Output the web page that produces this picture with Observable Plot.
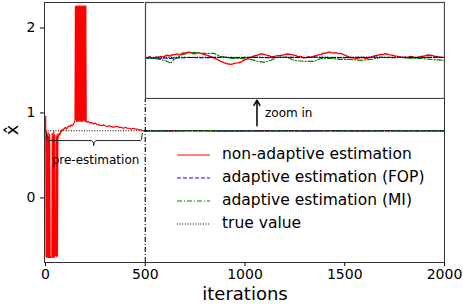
<!DOCTYPE html>
<html><head><meta charset="utf-8">
<script src="https://cdn.jsdelivr.net/npm/d3@7"></script>
<script src="https://cdn.jsdelivr.net/npm/@observablehq/plot@0.6"></script>
<style>
body{margin:0;background:#fff;font-family:"DejaVu Sans",sans-serif;}
#wrap{position:relative;width:463px;height:304px;overflow:hidden;background:#fff}
#wrap svg.plotsvg{position:absolute}
.lbl{position:absolute;white-space:nowrap;line-height:1;color:#000;font-family:"DejaVu Sans",sans-serif}
</style></head><body><div id="wrap"></div>
<script>
// ---- data ----
const trueValue = 0.79;
const xTicks = [0, 500, 1000, 1500, 2000];
const yTicks = [0, 1, 2];
const seriesNames = ["non-adaptive estimation", "adaptive estimation (FOP)", "adaptive estimation (MI)", "true value"];

const redIter = [0,1,2,3,5,7,9,11,13,15,17,19,21,23,25,32,34,36,38,40,42,44,46,47,52,54,56,58,60,62,64,68,72,76,80,85,90,95,100,105,110,115,120,125,130,135,140,145,148,
 150,152,154,156,158,160,162,164,166,168,170,172,174,176,178,180,182,184,186,188,190,192,194,196,198,200,202,204,
 208,215,222,230,240,250,260,270,280,290,300,310,320,330,340,350,360,370,380,390,400,410,420,430,440,450,460,470,480,490,
 500,511,521,532,542,558,566,575,592,600,609,625,634,642,659,668,676,688,700,713,726,738,750,763,777,795,810,822,835,848,860,876,893,910,927,938,950,964,978,990,1003,1015,1028,1044,1060,1078,1095,1108,1120,1133,1145,1165,1185,1207,1229,1242,1255,1267,1279,1292,1305,1318,1330,1343,1355,1368,1380,1393,1405,1418,1430,1443,1455,1468,1480,1497,1514,1527,1540,1552,1564,1577,1590,1602,1614,1627,1640,1652,1665,1678,1690,1703,1715,1728,1740,1752,1765,1778,1790,1803,1816,1828,1840,1853,1866,1883,1900,1916,1933,1949,1965,1983,2000];
const redVal = [0.80,0.96,0.30,-0.69,0.78,-0.70,0.74,-0.69,0.77,-0.70,0.72,-0.70,0.75,-0.69,-0.70,-0.69,0.76,-0.70,0.73,-0.69,0.78,-0.70,0.74,-0.68,-0.68,0.72,-0.69,0.75,-0.68,0.70,0.72,0.76,0.74,0.79,0.78,0.81,0.80,0.82,0.83,0.81,0.83,0.84,0.85,0.84,0.86,0.85,0.87,0.89,0.91,
 2.25,0.92,2.26,0.90,2.25,0.91,2.26,0.90,2.25,0.92,2.26,0.90,2.25,0.91,2.26,0.90,2.25,0.91,2.26,0.90,2.25,0.92,2.26,0.91,2.25,0.90,2.26,0.90,
 0.89,0.90,0.88,0.89,0.87,0.88,0.86,0.86,0.85,0.86,0.85,0.84,0.85,0.84,0.83,0.84,0.84,0.83,0.83,0.82,0.83,0.82,0.82,0.81,0.82,0.81,0.81,0.80,0.80,0.79,
 0.7900,0.7896,0.7905,0.7893,0.7896,0.7904,0.7899,0.7907,0.7902,0.7912,0.7915,0.7910,0.7920,0.7918,0.7926,0.7919,0.7922,0.7932,0.7930,0.7938,0.7936,0.7928,0.7925,0.7934,0.7929,0.7921,0.7915,0.7908,0.7900,0.7893,0.7885,0.7872,0.7862,0.7853,0.7849,0.7852,0.7858,0.7860,0.7864,0.7876,0.7885,0.7892,0.7900,0.7910,0.7915,0.7926,0.7922,0.7916,0.7912,0.7904,0.7907,0.7913,0.7915,0.7924,0.7922,0.7916,0.7912,0.7904,0.7907,0.7897,0.7898,0.7904,0.7900,0.7908,0.7912,0.7918,0.7922,0.7930,0.7932,0.7938,0.7936,0.7931,0.7934,0.7927,0.7929,0.7918,0.7907,0.7900,0.7897,0.7891,0.7893,0.7899,0.7898,0.7892,0.7893,0.7900,0.7906,0.7912,0.7915,0.7921,0.7920,0.7926,0.7922,0.7918,0.7915,0.7910,0.7907,0.7903,0.7902,0.7896,0.7900,0.7906,0.7904,0.7897,0.7900,0.7906,0.7910,0.7917,0.7915,0.7909,0.7905,0.7900,0.7900];

const blueIter = [500,530,560,590,620,650,680,710,740,770,800,840,880,920,960,1000,1040,1080,1120,1160,1200,1250,1300,1350,1400,1450,1500,1550,1600,1650,1700,1750,1800,1850,1900,1950,2000];
const blueVal = [0.7895,0.7893,0.7892,0.7894,0.7893,0.7896,0.7897,0.7899,0.7899,0.7898,0.7897,0.7900,0.7901,0.7899,0.7898,0.7900,0.7900,0.7899,0.7898,0.7900,0.7901,0.7899,0.7899,0.7901,0.7900,0.7898,0.7898,0.7900,0.7900,0.7901,0.7899,0.7898,0.7901,0.7900,0.7899,0.7900,0.7899];

const greenIter = [500,542,575,609,626,642,676,709,743,777,810,843,877,927,978,1028,1061,1095,1128,1162,1212,1246,1296,1346,1380,1430,1480,1530,1580,1630,1680,1730,1780,1830,1880,1933,2000];
const greenVal = [0.7896,0.7893,0.7885,0.7871,0.7856,0.7885,0.7915,0.7929,0.7936,0.7929,0.7929,0.7929,0.7907,0.7893,0.7893,0.7885,0.7871,0.7864,0.7878,0.7900,0.7900,0.7878,0.7871,0.7871,0.7893,0.7893,0.7885,0.7885,0.7878,0.7885,0.7900,0.7900,0.7900,0.7893,0.7893,0.7885,0.7878];

// ---- build rows ----
const red = redIter.map((it, i) => ({it, v: redVal[i]}));
const blue = blueIter.map((it, i) => ({it, v: blueVal[i]}));
const green = greenIter.map((it, i) => ({it, v: greenVal[i]}));
const redPost = red.filter(d => d.it >= 500);

const RED = "#ff0000", BLUE = "#0000ff", GREEN = "#008000";
const DASH = "4,2", DASHDOT = "5,2,1,2", DOT = "1,1.6";

// curly bracket annotation under the pre-estimation phase
const brace = [[5,0.76],[8,0.69],[15,0.675],[230,0.675],[240,0.655],[242,0.615],[244,0.655],[254,0.675],[475,0.675],[482,0.69],[485,0.76]].map(([it,v]) => ({it, v}));

const main = Plot.plot({
  width: 463, height: 304,
  marginLeft: 44, marginRight: 19, marginTop: 2, marginBottom: 42,
  style: {fontFamily: "DejaVu Sans", fontSize: "14px", color: "#000", background: "#fff"},
  x: {domain: [-5, 2000]},
  y: {domain: [-0.76, 2.30]},
  marks: [
    Plot.line(red, {x: "it", y: "v", stroke: RED, strokeWidth: 1.2}),
    Plot.line(blue, {x: "it", y: "v", stroke: BLUE, strokeWidth: 1.2, strokeDasharray: DASH}),
    Plot.line(green, {x: "it", y: "v", stroke: GREEN, strokeWidth: 1.2, strokeDasharray: DASHDOT}),
    Plot.ruleY([trueValue], {x1: 0, x2: 2000, stroke: "#000", strokeWidth: 1.1, strokeDasharray: DOT}),
    Plot.ruleX([500], {y1: -0.76, y2: 1.168, stroke: "#000", strokeWidth: 1.1, strokeDasharray: DASHDOT}),
    Plot.line(brace, {x: "it", y: "v", stroke: "#222", strokeWidth: 1}),
    Plot.arrow([{x: 1060, y1: 0.85, y2: 1.15}], {x1: "x", x2: "x", y1: "y1", y2: "y2", stroke: "#000", strokeWidth: 1.5, headLength: 6}),
    Plot.axisX({ticks: xTicks, tickSize: 4, tickPadding: 3, tickFormat: d => String(d), label: null, fontSize: 14}),
    Plot.axisY({ticks: yTicks, tickSize: 4, tickPadding: 5, tickFormat: d => String(d), label: null, fontSize: 14}),
    Plot.frame({stroke: "#333", strokeWidth: 1})
  ]
});
main.classList.add("plotsvg");
main.style.left = "0px"; main.style.top = "0px";

const inset = Plot.plot({
  width: 301, height: 98, margin: 1,
  style: {background: "#fff"},
  x: {domain: [500, 2000], axis: null},
  y: {domain: [0.76, 0.83], axis: null},
  marks: [
    Plot.line(redPost, {x: "it", y: "v", stroke: RED, strokeWidth: 1.4}),
    Plot.line(blue, {x: "it", y: "v", stroke: BLUE, strokeWidth: 1.2, strokeDasharray: DASH}),
    Plot.line(green, {x: "it", y: "v", stroke: GREEN, strokeWidth: 1.2, strokeDasharray: DASHDOT}),
    Plot.ruleY([trueValue], {stroke: "#000", strokeWidth: 1.1, strokeDasharray: DOT}),
    Plot.frame({stroke: "#444", strokeWidth: 1.2})
  ]
});
inset.classList.add("plotsvg");
inset.style.left = "144px"; inset.style.top = "1px";

const wrap = document.getElementById("wrap");
wrap.appendChild(main);
wrap.appendChild(inset);

function label(text, x, y, size, anchorX = 0) {
  const d = document.createElement("div");
  d.className = "lbl";
  d.textContent = text;
  d.style.left = x + "px"; d.style.top = y + "px";
  d.style.fontSize = size + "px";
  d.style.transform = `translate(${-anchorX * 100}%, -50%)`;
  wrap.appendChild(d);
  return d;
}
label("iterations", 245, 294, 18, 0.5);
label("pre-estimation", 95.5, 160, 12, 0.5);
label("zoom in", 265, 113, 12, 0);
const yl = label("x\u0302", 12, 130, 18, 0.5);
yl.style.transformOrigin = "center";
yl.style.transform = "translate(-50%, -50%) rotate(-90deg)";

// legend
const legendStyles = [
  {stroke: RED, dash: null},
  {stroke: BLUE, dash: DASH},
  {stroke: GREEN, dash: DASHDOT},
  {stroke: "#000", dash: DOT}
];
const rowY = [155, 178, 201, 223.5];
seriesNames.forEach((name, i) => {
  const s = d3.create("svg").attr("width", 34).attr("height", 6)
    .style("position", "absolute").style("left", "177px").style("top", (rowY[i] - 3) + "px");
  s.append("line").attr("x1", 0).attr("x2", 33).attr("y1", 3).attr("y2", 3)
    .attr("stroke", legendStyles[i].stroke).attr("stroke-width", 1.2)
    .attr("stroke-dasharray", legendStyles[i].dash);
  wrap.appendChild(s.node());
  label(name, 222, rowY[i], 15.5, 0);
});
</script>
</body></html>
